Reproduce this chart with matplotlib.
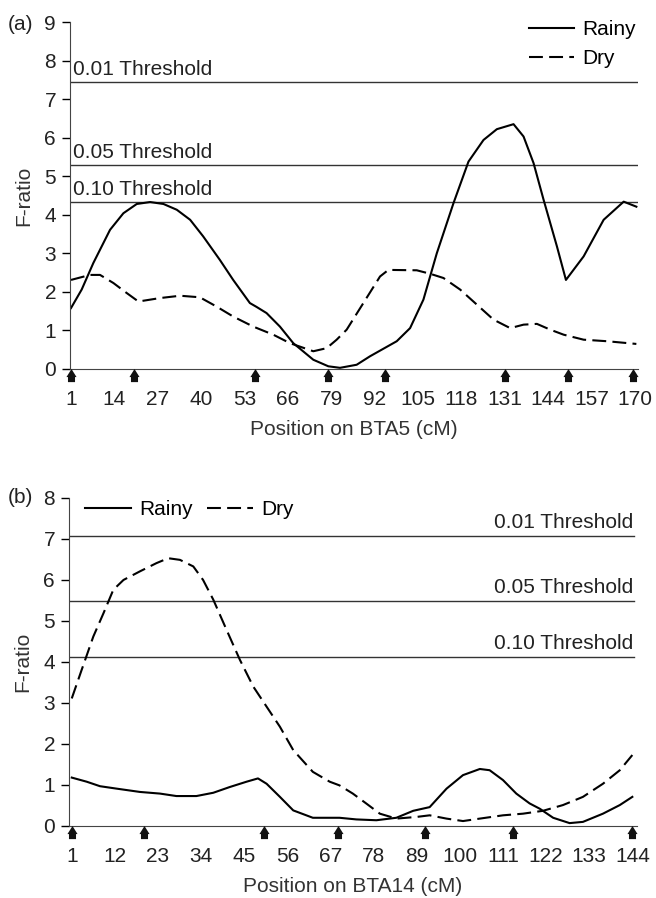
import numpy as np
import matplotlib
matplotlib.use("Agg")
from matplotlib import pyplot as plt
from matplotlib.path import Path

plt.rcParams["font.family"] = ["Liberation Sans", "DejaVu Sans"]
plt.rcParams["lines.scale_dashes"] = False

# ---- panel (a): BTA5 ----
a_rainy_pos = [1, 4.2, 7.7, 12.7, 16.7, 20.7, 24.7, 28.7, 32.7, 36.7, 40.6, 45.6, 49.6,
               54.6, 56.6, 59.6, 63.6, 67.6, 73.6, 78.1, 81.6, 86.6, 90.6, 98.6, 102.6,
               106.6, 110.6, 115.6, 120.1, 124.6, 128.6, 133.6, 136.6, 139.6, 142.6,
               146.6, 149.3, 154.6, 160.6, 166.6, 170.4]
a_rainy_f = [1.58, 2.06, 2.75, 3.61, 4.04, 4.28, 4.33, 4.28, 4.13, 3.87, 3.44, 2.83, 2.31,
             1.71, 1.61, 1.45, 1.10, 0.67, 0.24, 0.07, 0.03, 0.11, 0.33, 0.72, 1.06,
             1.80, 3.00, 4.30, 5.38, 5.94, 6.22, 6.35, 6.03, 5.34, 4.39,
             3.18, 2.31, 2.92, 3.87, 4.34, 4.21]
a_dry_pos = [1, 6.7, 9.7, 13.7, 17.7, 21.2, 27.7, 33.7, 39.6, 44.6, 49.6, 55.6, 61.6,
             66.6, 73.6, 77.6, 80.6, 83.6, 88.6, 93.6, 96.1, 104.6, 108.6, 112.6, 117.6,
             122.6, 127.6, 132.6, 136.6, 140.6, 144.6, 148.6, 154.6, 161.6, 170.4]
a_dry_f = [2.31, 2.44, 2.44, 2.23, 1.97, 1.75, 1.84, 1.90, 1.86, 1.62, 1.36, 1.10, 0.89,
           0.67, 0.46, 0.54, 0.76, 1.02, 1.71, 2.40, 2.57, 2.56, 2.47, 2.36, 2.06,
           1.67, 1.28, 1.06, 1.15, 1.17, 1.02, 0.89, 0.76, 0.72, 0.65]
a_ticks = [1, 14, 27, 40, 53, 66, 79, 92, 105, 118, 131, 144, 157, 170]
a_markers = [1, 20, 56, 78, 95, 131, 150, 169.5]
a_thresholds = [7.44, 5.29, 4.33]

# ---- panel (b): BTA14 ----
b_rainy_pos = [1, 4.8, 8.2, 12.5, 18.4, 23.5, 27.7, 32.8, 37.1, 41.3, 45.6, 48.5, 50.7,
               54.1, 57.5, 62.5, 66.8, 69.3, 73.6, 78.7, 83.8, 88.1, 92.3, 96.6, 100.8,
               105.1, 107.6, 111, 114.4, 117.8, 120.4, 123.8, 128, 131.4, 136.5, 140.8, 144]
b_rainy_f = [1.18, 1.08, 0.97, 0.91, 0.83, 0.79, 0.73, 0.73, 0.81, 0.95, 1.08, 1.16, 1.03,
             0.71, 0.38, 0.20, 0.20, 0.20, 0.16, 0.14, 0.20, 0.37, 0.46, 0.91, 1.24,
             1.39, 1.36, 1.12, 0.79, 0.55, 0.42, 0.20, 0.07, 0.10, 0.30, 0.51, 0.71]
b_dry_pos = [1, 3.5, 6.5, 9.1, 11.6, 14.2, 18.4, 22.6, 25.6, 28.6, 32.0, 34.5, 37.1, 40.5,
             43.9, 47.3, 50.7, 54.1, 57.5, 62.5, 66.8, 69.3, 72.7, 76.1, 79.6, 83.8,
             88.9, 92.3, 96.6, 100.8, 105.1, 111, 116.1, 121.2, 126.3, 131.4, 136.5,
             140.8, 144]
b_dry_f = [3.11, 3.80, 4.62, 5.19, 5.76, 6.00, 6.21, 6.41, 6.53, 6.49, 6.33, 6.00, 5.52, 4.78,
           4.05, 3.40, 2.91, 2.42, 1.85, 1.32, 1.08, 0.99, 0.79, 0.55, 0.30, 0.18,
           0.22, 0.26, 0.18, 0.12, 0.18, 0.26, 0.30, 0.37, 0.51, 0.71, 1.03,
           1.36, 1.73]
b_ticks = [1, 12, 23, 34, 45, 56, 67, 78, 89, 100, 111, 122, 133, 144]
b_markers = [1, 19.5, 50, 69, 91, 113.5, 144]
b_thresholds = [7.06, 5.49, 4.13]

threshold_labels = ["0.01 Threshold", "0.05 Threshold", "0.10 Threshold"]

# blocky up-arrow marker drawn under the axis at marker positions
arrow = Path([(-0.28, -1.0), (0.28, -1.0), (0.28, -0.6), (0.4, -0.6), (0.0, 0.04),
              (-0.4, -0.6), (-0.28, -0.6), (-0.28, -1.0)],
             [Path.MOVETO] + [Path.LINETO] * 6 + [Path.CLOSEPOLY])

FS = 15
DASH = (0, (10, 4.5))

fig = plt.figure(figsize=(6.56, 8.98), dpi=100)
ax_a = fig.add_axes([0.1067, 0.5891, 0.8659, 0.3864])
ax_b = fig.add_axes([0.1052, 0.0802, 0.8659, 0.3653])


def style_axis(ax, xlim, ymax, ticks, markers, xlabel):
    ax.set_xlim(*xlim)
    ax.set_ylim(0, ymax)
    ax.set_yticks(range(0, ymax + 1))
    ax.set_xticks(ticks)
    ax.tick_params(axis="x", length=0, pad=15, labelsize=FS, labelcolor="#222222")
    ax.tick_params(axis="y", length=6, width=1, pad=4, labelsize=FS, labelcolor="#222222")
    ax.spines["top"].set_visible(False)
    ax.spines["right"].set_visible(False)
    ax.spines["left"].set_color("#444444")
    ax.spines["bottom"].set_color("#444444")
    ax.set_ylabel("F-ratio", fontsize=FS, labelpad=8, color="#333333")
    ax.set_xlabel(xlabel, fontsize=FS, labelpad=8, color="#333333")
    ax.scatter(markers, [0] * len(markers), marker=arrow, s=330, c="#111111",
               clip_on=False, zorder=5, linewidths=0)


# panel a
for t, lab in zip(a_thresholds, threshold_labels):
    ax_a.axhline(t, color="#333333", lw=1)
    ax_a.text(1.6, t + 0.08, lab, fontsize=FS, ha="left", va="bottom", color="#222222")
ax_a.plot(a_rainy_pos, a_rainy_f, color="k", lw=1.5, label="Rainy")
ax_a.plot(a_dry_pos, a_dry_f, color="k", lw=1.5, linestyle=DASH, label="Dry")
style_axis(ax_a, (0.7, 170.9), 9, a_ticks, a_markers, "Position on BTA5 (cM)")
ax_a.legend(loc="upper right", bbox_to_anchor=(1.03, 1.06), frameon=False, fontsize=FS,
            handlelength=2.2, handletextpad=0.4, labelspacing=0.5)
fig.text(0.012, 0.973, "(a)", fontsize=FS, ha="left", va="center", color="#222222")

# panel b
for t, lab in zip(b_thresholds, threshold_labels):
    ax_b.axhline(t, xmax=0.995, color="#333333", lw=1)
    ax_b.text(144.2, t + 0.1, lab, fontsize=FS, ha="right", va="bottom", color="#222222")
ax_b.plot(b_rainy_pos, b_rainy_f, color="k", lw=1.5, label="Rainy")
ax_b.plot(b_dry_pos, b_dry_f, color="k", lw=1.5, linestyle=DASH, label="Dry")
style_axis(ax_b, (0.3, 145.2), 8, b_ticks, b_markers, "Position on BTA14 (cM)")
ax_b.legend(loc="upper left", bbox_to_anchor=(-0.005, 1.05), frameon=False, fontsize=FS,
            ncol=2, handlelength=2.2, handletextpad=0.4, columnspacing=0.7)
fig.text(0.012, 0.446, "(b)", fontsize=FS, ha="left", va="center", color="#222222")

fig.savefig("out.png", dpi=100)
